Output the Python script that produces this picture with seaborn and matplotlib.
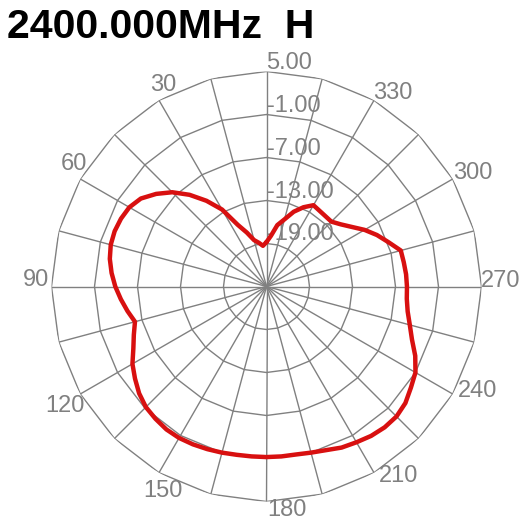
import numpy as np
import pandas as pd
import matplotlib
matplotlib.use("Agg")
import matplotlib.pyplot as plt
import seaborn as sns

# Antenna pattern, 2400 MHz, H plane (dB)
angles_deg = [0, 5, 10, 15, 20, 25, 30, 35, 40, 45, 50, 55, 60, 65, 70, 75,
              80, 85, 90, 95, 100, 105, 110, 115, 120, 125, 130, 135, 140, 145,
              150, 155, 160, 165, 170, 175, 180, 185, 190, 195, 200, 205, 210,
              215, 220, 225, 230, 235, 240, 245, 250, 255, 260, 265, 270, 275,
              280, 285, 290, 295, 300, 305, 310, 315, 320, 325, 330, 335, 340,
              345, 350, 355, 360]
gain_db = [-18.8, -19.3, -18.8, -18.3, -17.0, -15.5, -12.6, -10.4, -8.3, -6.4,
           -4.9, -3.6, -2.9, -2.6, -2.45, -2.5, -2.8, -3.3, -3.9, -4.6, -5.3,
           -6.0, -5.3, -4.5, -3.4, -2.6, -1.8, -1.2, -0.9, -0.65, -0.6, -0.7,
           -0.85, -1.0, -1.15, -1.2, -1.2, -1.2, -1.2, -1.0, -0.7, -0.2, 0.1,
           0.45, 0.65, 0.65, 0.3, -0.4, -1.0, -2.1, -3.4, -4.3, -5.0, -5.35,
           -5.4, -5.45, -5.55, -5.6, -6.9, -8.0, -9.2, -10.5, -11.5, -12.2,
           -12.2, -12.1, -11.9, -12.8, -13.9, -15.3, -16.3, -17.9, -18.8]

ring_values = [-19.0, -13.0, -7.0, -1.0, 5.0]
ring_labels = ["-19.00", "-13.00", "-7.00", "-1.00", "5.00"]
spoke_deg = list(range(0, 360, 15))
label_deg = [30, 60, 90, 120, 150, 180, 210, 240, 270, 300, 330]
r_min, r_max = -25.0, 5.0

# where each angle label sits relative to its spoke end (pixels, y up)
label_offsets = {30: (4, 9), 60: (-6, 9), 90: (-16, 0), 120: (-15, -18),
                 150: (4, -24), 180: (20, -15), 210: (25, -9), 240: (25, -3),
                 270: (19, 0), 300: (20, 0), 330: (19, 1)}

sns.set_style("white")
plt.rcParams["font.family"] = ["Liberation Sans", "DejaVu Sans"]

fig = plt.figure(figsize=(5.22, 5.23), dpi=100)
ax = fig.add_axes([51.5 / 522, 21.5 / 523, 430 / 522, 430 / 523], projection="polar")
ax.set_theta_zero_location("N")
ax.set_theta_direction(1)
ax.set_ylim(r_min, r_max)

grid_col = "#808080"

# spokes every 15 degrees
ax.set_thetagrids(spoke_deg, [""] * len(spoke_deg))
ax.tick_params(axis="x", length=0)
ax.xaxis.grid(True, color=grid_col, linewidth=1)
ax.set_yticks([])
ax.yaxis.grid(False)
ax.spines["polar"].set_visible(False)

# polygonal rings (straight segments between the spokes)
poly_theta = np.deg2rad(spoke_deg + [360])
for rv in ring_values:
    ax.plot(poly_theta, [rv] * len(poly_theta), color=grid_col, linewidth=1, zorder=1)

for rv, lab in zip(ring_values, ring_labels):
    ax.annotate(lab, xy=(0, rv), xytext=(0, 3), textcoords="offset pixels",
                ha="left", va="baseline", color=grid_col, fontsize=17)

for a in label_deg:
    ax.annotate(str(a), xy=(np.deg2rad(a), r_max), xytext=label_offsets[a],
                textcoords="offset pixels", ha="center", va="baseline",
                color=grid_col, fontsize=17, annotation_clip=False)

df = pd.DataFrame({"theta": np.deg2rad(angles_deg), "gain": gain_db})
sns.lineplot(data=df, x="theta", y="gain", sort=False, color="#d81010",
             linewidth=3.2, ax=ax, zorder=3, estimator=None)
ax.set_xlabel("")
ax.set_ylabel("")

fig.text(7 / 522, 1 - 38 / 523, "2400.000MHz  H", fontsize=29.5,
         fontweight="bold", color="black", ha="left", va="baseline")

fig.savefig("out.png", dpi=100, facecolor="white")
